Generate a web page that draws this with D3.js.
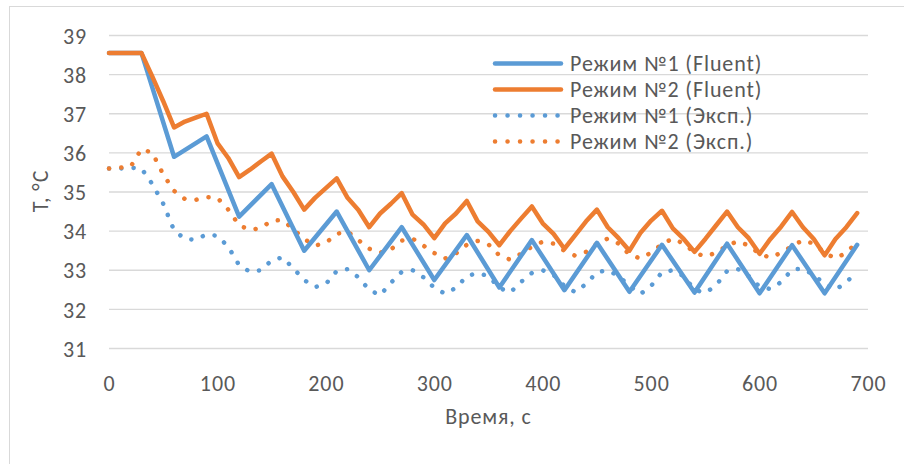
<!DOCTYPE html>
<html>
<head>
<meta charset="utf-8">
<script src="https://cdn.jsdelivr.net/npm/d3@7"></script>
<style>
  body { margin: 0; background: #fff; }
  text { font-family: Carlito, "Open Sans", "Noto Sans", sans-serif; fill: #595959; letter-spacing: 0.9px; }
</style>
</head>
<body>
<div id="chart"></div>
<script>
var width = 904,
    height = 464;

// time grids (s)
var timeFluent1 = [0, 30, 60, 90, 120, 150, 180, 210, 240, 270, 300, 330, 360, 390, 420, 450, 480, 510, 540, 570, 600, 630, 660, 690];
var time10 = d3.range(0, 700, 10);

// Режим №1 (Fluent)
var fluent1 = [38.55, 38.55, 35.9, 36.42, 34.37, 35.2, 33.5, 34.5, 33.0, 34.1, 32.75, 33.9, 32.56, 33.77, 32.49, 33.7, 32.45, 33.65, 32.43, 33.68, 32.41, 33.64, 32.41, 33.65];

// Режим №2 (Fluent)
var fluent2 = [38.55, 38.55, 38.55, 38.55, 37.95, 37.32, 36.65, 36.8, 36.9, 37.0,
               36.25, 35.87, 35.38, 35.57, 35.78, 35.98, 35.4, 35.0, 34.55, 34.85,
               35.1, 35.35, 34.85, 34.54, 34.1, 34.45, 34.7, 34.97, 34.42, 34.17,
               33.82, 34.2, 34.45, 34.77, 34.25, 33.98, 33.64, 34.0, 34.32, 34.63,
               34.2, 33.93, 33.55, 33.9, 34.25, 34.55, 34.1, 33.82, 33.5, 33.95,
               34.27, 34.52, 34.07, 33.8, 33.47, 33.8, 34.15, 34.5, 34.1, 33.82,
               33.42, 33.8, 34.12, 34.49, 34.1, 33.8, 33.38, 33.8, 34.1, 34.46];

// Режим №1 (Эксп.)
var exp1 = [35.6, 35.6, 35.62, 35.6, 35.2, 34.7, 34.02, 33.8, 33.78, 33.92,
            33.88, 33.6, 33.13, 32.96, 33.0, 33.25, 33.33, 33.05, 32.75, 32.57,
            32.65, 32.98, 33.03, 32.82, 32.5, 32.36, 32.68, 32.96, 33.0, 32.82,
            32.55, 32.4, 32.55, 32.85, 32.93, 32.85, 32.55, 32.43, 32.7, 32.93,
            33.0, 32.88, 32.6, 32.44, 32.65, 32.95, 33.0, 32.85, 32.6, 32.39,
            32.6, 32.95, 33.0, 32.85, 32.5, 32.42, 32.62, 32.98, 33.03, 32.85,
            32.58, 32.52, 32.7, 33.02, 33.04, 32.88, 32.65, 32.5, 32.7, 32.95];

// Режим №2 (Эксп.)
var exp2 = [35.6, 35.62, 35.65, 36.1, 36.0, 35.45, 35.03, 34.82, 34.8, 34.87,
            34.85, 34.55, 34.15, 34.03, 34.08, 34.27, 34.28, 34.05, 33.8, 33.63,
            33.7, 33.93, 33.99, 33.77, 33.55, 33.45, 33.53, 33.76, 33.81, 33.63,
            33.44, 33.3, 33.43, 33.65, 33.75, 33.66, 33.38, 33.27, 33.42, 33.6,
            33.73, 33.68, 33.5, 33.37, 33.47, 33.68, 33.81, 33.68, 33.4, 33.3,
            33.45, 33.67, 33.81, 33.68, 33.45, 33.35, 33.45, 33.63, 33.74, 33.63,
            33.42, 33.32, 33.45, 33.62, 33.77, 33.68, 33.45, 33.3, 33.45, 33.72];

var seriesNames = ["Режим №1 (Fluent)", "Режим №2 (Fluent)", "Режим №1 (Эксп.)", "Режим №2 (Эксп.)"];
var xTicks = [0, 100, 200, 300, 400, 500, 600, 700];
var yTicks = [31, 32, 33, 34, 35, 36, 37, 38, 39];

var blue = "#5B9BD5",
    orange = "#ED7D31";

var fontSize = 22;

var series = [
  {name: seriesNames[0], t: timeFluent1, v: fluent1, color: blue, dotted: false},
  {name: seriesNames[1], t: time10, v: fluent2, color: orange, dotted: false},
  {name: seriesNames[2], t: time10, v: exp1, color: blue, dotted: true},
  {name: seriesNames[3], t: time10, v: exp2, color: orange, dotted: true}
];

var svg = d3.select("#chart").append("svg")
    .attr("width", width)
    .attr("height", height);

// chart area border
svg.append("rect")
    .attr("x", 9.5).attr("y", 6.5)
    .attr("width", 1000).attr("height", 1000)
    .attr("fill", "none")
    .attr("stroke", "#d9d9d9");

var x = d3.scaleLinear().domain([0, 700]).range([109, 868]);
var y = d3.scaleLinear().domain([31, 39]).range([348.5, 35.5]);

// gridlines
svg.selectAll("line.grid")
    .data(yTicks)
  .enter().append("line")
    .attr("class", "grid")
    .attr("x1", x(0)).attr("x2", x(700))
    .attr("y1", function(d) { return y(d); })
    .attr("y2", function(d) { return y(d); })
    .attr("stroke", "#d9d9d9")
    .attr("stroke-width", 1.3);

// y axis labels
var yAxis = d3.axisLeft(y).tickValues(yTicks).tickSize(0).tickPadding(0);
var gy = svg.append("g")
    .attr("transform", "translate(87,0)")
    .call(yAxis);
gy.select(".domain").remove();
gy.selectAll("text").attr("font-size", fontSize).style("font-family", null).attr("fill", "#595959").attr("dy", "0.35em");

// x axis labels
var xAxis = d3.axisBottom(x).tickValues(xTicks).tickSize(0).tickPadding(0);
var gx = svg.append("g")
    .attr("transform", "translate(0,391)")
    .call(xAxis);
gx.select(".domain").remove();
gx.selectAll("text").attr("font-size", fontSize).style("font-family", null).attr("fill", "#595959").attr("dy", 0);

// axis titles
svg.append("text")
    .attr("x", x(350)).attr("y", 424)
    .attr("text-anchor", "middle")
    .attr("font-size", fontSize)
    .text("Время, с");

svg.append("text")
    .attr("transform", "translate(48,191) rotate(-90)")
    .attr("text-anchor", "middle")
    .attr("font-size", fontSize)
    .text("T, °C");

var line = d3.line()
    .x(function(d) { return x(d[0]); })
    .y(function(d) { return y(d[1]); });

// draw dotted first, solid on top
var order = [2, 3, 0, 1];
order.forEach(function(i) {
  var s = series[i];
  var pts = s.t.map(function(t, k) { return [t, s.v[k]]; });
  var p = svg.append("path")
      .datum(pts)
      .attr("d", line)
      .attr("fill", "none")
      .attr("stroke", s.color)
      .attr("stroke-linejoin", "round")
      .attr("stroke-linecap", "round")
      .attr("stroke-width", 4.5);
  if (s.dotted) p.attr("stroke-dasharray", "0.1 12.2");
});

// legend
var legend = svg.selectAll("g.legend")
    .data(series)
  .enter().append("g")
    .attr("class", "legend")
    .attr("transform", function(d, i) { return "translate(0," + (63.5 + i * 26) + ")"; });

legend.append("line")
    .attr("x1", 495).attr("x2", 561)
    .attr("stroke", function(d) { return d.color; })
    .attr("stroke-width", 4.5)
    .attr("stroke-linecap", "round")
    .attr("stroke-dasharray", function(d) { return d.dotted ? "0.1 12.4" : null; });

legend.append("text")
    .attr("x", 570).attr("dy", "0.35em")
    .attr("font-size", fontSize)
    .text(function(d) { return d.name; });
</script>
</body>
</html>
